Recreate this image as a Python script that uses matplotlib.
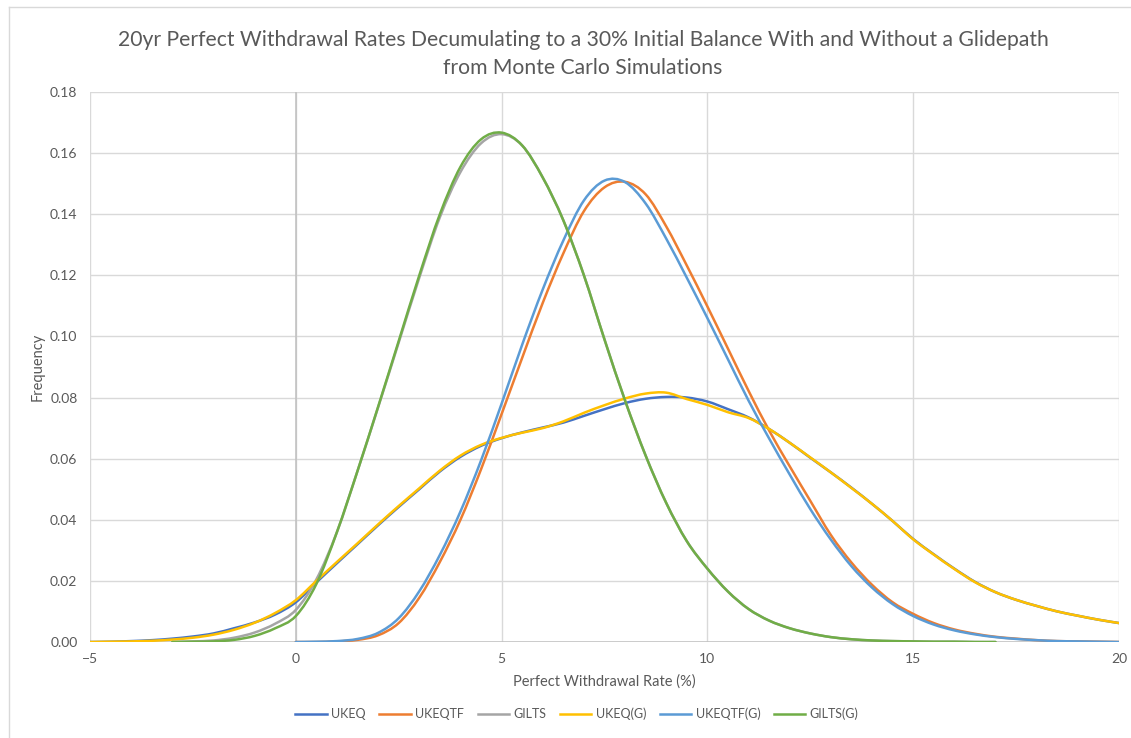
import numpy as np
import matplotlib
matplotlib.use("Agg")
import matplotlib.pyplot as plt
from matplotlib.path import Path
from matplotlib.patches import PathPatch
from matplotlib.lines import Line2D

plt.rcParams['font.family'] = ['Lato', 'DejaVu Sans']

# x grids (0.5 steps) for each group of series
x_wide = np.arange(-5, 20.01, 0.5)     # UKEQ, UKEQ(G)
x_tf = np.arange(0, 20.01, 0.5)        # UKEQTF, UKEQTF(G)
x_gilts = np.arange(-3, 17.01, 0.5)    # GILTS, GILTS(G)

ukeq = [0.0000, 0.0001, 0.0003, 0.0006, 0.0011, 0.0018, 0.0028, 0.0045, 0.0064, 0.0090,
        0.0130, 0.0195, 0.0258, 0.0320, 0.0382, 0.0442, 0.0500, 0.0558, 0.0606, 0.0642,
        0.0667, 0.0686, 0.0702, 0.0718, 0.0740, 0.0762, 0.0782, 0.0796, 0.0802, 0.0800,
        0.0787, 0.0762, 0.0735, 0.0697, 0.0652, 0.0603, 0.0555, 0.0505, 0.0452, 0.0396,
        0.0337, 0.0287, 0.0240, 0.0197, 0.0163, 0.0138, 0.0118, 0.0100, 0.0086, 0.0073,
        0.0062]
ukeq_g = [0.0000, 0.0001, 0.0002, 0.0004, 0.0008, 0.0014, 0.0024, 0.0040, 0.0063, 0.0095,
          0.0137, 0.0200, 0.0262, 0.0323, 0.0385, 0.0445, 0.0503, 0.0561, 0.0610, 0.0645,
          0.0668, 0.0685, 0.0700, 0.0722, 0.0750, 0.0775, 0.0797, 0.0813, 0.0816, 0.0795,
          0.0776, 0.0752, 0.0733, 0.0697, 0.0652, 0.0604, 0.0555, 0.0504, 0.0452, 0.0396,
          0.0336, 0.0286, 0.0239, 0.0196, 0.0163, 0.0138, 0.0118, 0.0100, 0.0086, 0.0073,
          0.0062]
ukeqtf = [0.0000, 0.0000, 0.0002, 0.0007, 0.0022, 0.0062, 0.0145, 0.0262, 0.0400, 0.0565,
          0.0746, 0.0930, 0.1110, 0.1272, 0.1410, 0.1488, 0.1506, 0.1465, 0.1360, 0.1232,
          0.1098, 0.0960, 0.0822, 0.0692, 0.0575, 0.0462, 0.0350, 0.0260, 0.0187, 0.0130,
          0.0092, 0.0062, 0.0041, 0.0027, 0.0017, 0.0011, 0.0006, 0.0003, 0.0002, 0.0001,
          0.0000]
ukeqtf_g = [0.0000, 0.0001, 0.0003, 0.0010, 0.0030, 0.0078, 0.0166, 0.0285, 0.0427, 0.0594,
            0.0780, 0.0973, 0.1154, 0.1314, 0.1445, 0.1510, 0.1505, 0.1435, 0.1320, 0.1192,
            0.1060, 0.0925, 0.0790, 0.0666, 0.0548, 0.0435, 0.0335, 0.0248, 0.0178, 0.0124,
            0.0085, 0.0057, 0.0038, 0.0025, 0.0016, 0.0010, 0.0006, 0.0003, 0.0002, 0.0001,
            0.0000]
gilts = [0.0000, 0.0002, 0.0005, 0.0014, 0.0031, 0.0060, 0.0105, 0.0205, 0.0360, 0.0560,
         0.0768, 0.0980, 0.1192, 0.1390, 0.1538, 0.1632, 0.1662, 0.1625, 0.1520, 0.1380,
         0.1200, 0.0990, 0.0790, 0.0610, 0.0455, 0.0330, 0.0240, 0.0165, 0.0108, 0.0070,
         0.0045, 0.0028, 0.0016, 0.0009, 0.0005, 0.0003, 0.0002, 0.0001, 0.0001, 0.0000,
         0.0000]
gilts_g = [0.0000, 0.0001, 0.0002, 0.0007, 0.0020, 0.0045, 0.0085, 0.0190, 0.0360, 0.0560,
           0.0770, 0.0985, 0.1200, 0.1400, 0.1555, 0.1645, 0.1667, 0.1625, 0.1520, 0.1380,
           0.1200, 0.0990, 0.0790, 0.0610, 0.0455, 0.0330, 0.0240, 0.0165, 0.0108, 0.0070,
           0.0045, 0.0028, 0.0016, 0.0009, 0.0005, 0.0003, 0.0002, 0.0001, 0.0001, 0.0000,
           0.0000]

series = [
    ('UKEQ', x_wide, ukeq, '#4472C4'),
    ('UKEQTF', x_tf, ukeqtf, '#ED7D31'),
    ('GILTS', x_gilts, gilts, '#A5A5A5'),
    ('UKEQ(G)', x_wide, ukeq_g, '#FFC000'),
    ('UKEQTF(G)', x_tf, ukeqtf_g, '#5B9BD5'),
    ('GILTS(G)', x_gilts, gilts_g, '#70AD47'),
]

text_col = '#595959'
grid_col = '#D9D9D9'
lw = 1.8


# smoothed line like Excel: bezier segments through the data points
def smooth_path(x, y):
    pts = np.column_stack([x, y])
    n = len(pts)
    verts = [pts[0]]
    codes = [Path.MOVETO]
    for i in range(n - 1):
        p0 = pts[i - 1] if i > 0 else pts[i]
        p1 = pts[i]
        p2 = pts[i + 1]
        p3 = pts[i + 2] if i + 2 < n else pts[i + 1]
        verts += [p1 + (p2 - p0) / 6, p2 - (p3 - p1) / 6, p2]
        codes += [Path.CURVE4] * 3
    return Path(verts, codes)


fig = plt.figure(figsize=(11.31, 7.38), dpi=100)
ax = fig.add_axes([90 / 1131, 96 / 738, 1029 / 1131, 550 / 738])

for s in ax.spines.values():
    s.set_visible(False)
ax.set_xlim(-5, 20)
ax.set_ylim(0, 0.18)
ax.set_xticks([-5, 0, 5, 10, 15, 20])
ax.set_yticks(np.arange(0, 0.1801, 0.02))
ax.yaxis.set_major_formatter(matplotlib.ticker.FormatStrFormatter('%.2f'))
ax.tick_params(length=0, colors=text_col, labelsize=10)
ax.tick_params(axis='y', pad=9)
ax.tick_params(axis='x', pad=8)
ax.grid(True, color=grid_col, lw=1.0, zorder=0)
ax.set_axisbelow(True)
ax.axvline(0, color='#BFBFBF', lw=1.1, zorder=1)
ax.axhline(0, color='#BFBFBF', lw=1.1, zorder=1)

handles = []
for name, xs, ys, col in series:
    ax.add_patch(PathPatch(smooth_path(xs, np.array(ys)), fill=False, edgecolor=col,
                           lw=lw, capstyle='round', joinstyle='round', zorder=3))
    handles.append(Line2D([], [], color=col, lw=lw, label=name))

ax.set_xlabel('Perfect Withdrawal Rate (%)', color=text_col, fontsize=10.5, labelpad=7)
ax.set_ylabel('Frequency', color=text_col, fontsize=10.5, labelpad=4)

fig.text(583 / 1131, 1 - 54 / 738,
         '20yr Perfect Withdrawal Rates Decumulating to a 30% Initial Balance With and Without a Glidepath\nfrom Monte Carlo Simulations',
         ha='center', va='center', color=text_col, fontsize=15.2, linespacing=1.5)

fig.legend(handles=handles, loc='center', bbox_to_anchor=(577 / 1131, 1 - 714 / 738),
           ncol=6, frameon=False, fontsize=9, handlelength=2.5, handletextpad=0.35,
           columnspacing=1.1, labelcolor=text_col)

# chart area border
fig.add_artist(Line2D([9 / 1131, 9 / 1131], [0, 1 - 7 / 738], transform=fig.transFigure,
                      color=grid_col, lw=1.0))
fig.add_artist(Line2D([9 / 1131, 1], [1 - 7 / 738, 1 - 7 / 738], transform=fig.transFigure,
                      color=grid_col, lw=1.0))

fig.savefig('out.png', dpi=100)
